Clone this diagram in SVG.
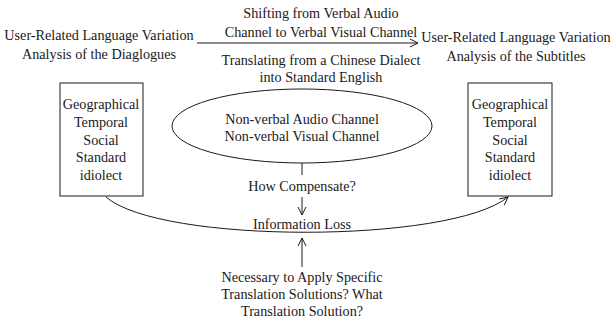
<svg xmlns="http://www.w3.org/2000/svg" width="613" height="320" viewBox="0 0 613 320">
<style>
text{font-family:"Liberation Serif","Times New Roman",serif;font-size:14.2px;fill:#1a1a1a;text-anchor:middle}
.ln{fill:none;stroke:#1a1a1a;stroke-width:1}
</style>
<defs>
<marker id="arr" viewBox="0 0 10 10" refX="9" refY="5" markerWidth="10" markerHeight="10" markerUnits="userSpaceOnUse" orient="auto">
<polyline points="1,1 9,5 1,9" fill="none" stroke="#1a1a1a" stroke-width="1"/>
</marker>
</defs>
<rect width="613" height="320" fill="#fff"/>
<g id="src-title">
<text x="99" y="40">User-Related Language Variation</text>
<text x="99" y="59">Analysis of the Diaglogues</text>
</g>
<g id="tgt-title">
<text x="516" y="42">User-Related Language Variation</text>
<text x="516" y="61">Analysis of the Subtitles</text>
</g>
<g id="shift-label">
<text x="321" y="18">Shifting from Verbal Audio</text>
<text x="321" y="37">Channel to Verbal Visual Channel</text>
</g>
<g id="translate-label">
<text x="321" y="65">Translating from a Chinese Dialect</text>
<text x="321" y="82">into Standard English</text>
</g>
<g id="left-box">
<rect class="ln" x="60" y="83" width="83" height="113"/>
<text x="101" y="109">Geographical</text>
<text x="101" y="127">Temporal</text>
<text x="101" y="145">Social</text>
<text x="101" y="162">Standard</text>
<text x="101" y="180">idiolect</text>
</g>
<g id="right-box">
<rect class="ln" x="468" y="83" width="84" height="113"/>
<text x="510" y="109">Geographical</text>
<text x="510" y="127">Temporal</text>
<text x="510" y="145">Social</text>
<text x="510" y="162">Standard</text>
<text x="510" y="180">idiolect</text>
</g>
<g id="nonverbal">
<ellipse class="ln" cx="302" cy="126" rx="130" ry="37"/>
<text x="302" y="124">Non-verbal Audio Channel</text>
<text x="302" y="141">Non-verbal Visual Channel</text>
</g>
<g id="how-compensate">
<text x="302" y="191">How Compensate?</text>
</g>
<g id="info-loss">
<text x="302" y="229">Information Loss</text>
</g>
<g id="necessary">
<text x="302" y="282">Necessary to Apply Specific</text>
<text x="302" y="299">Translation Solutions? What</text>
<text x="302" y="316">Translation Solution?</text>
</g>
<g id="connectors">
<line class="ln" x1="197" y1="43" x2="418" y2="43" marker-end="url(#arr)"/>
<line class="ln" x1="302" y1="163" x2="302" y2="175"/>
<line class="ln" x1="302" y1="197" x2="302" y2="215" marker-end="url(#arr)"/>
<line class="ln" x1="302" y1="267" x2="302" y2="238" marker-end="url(#arr)"/>
<path class="ln" d="M106,197 C160,244 450,244 508,197" marker-end="url(#arr)"/>
</g>
</svg>
